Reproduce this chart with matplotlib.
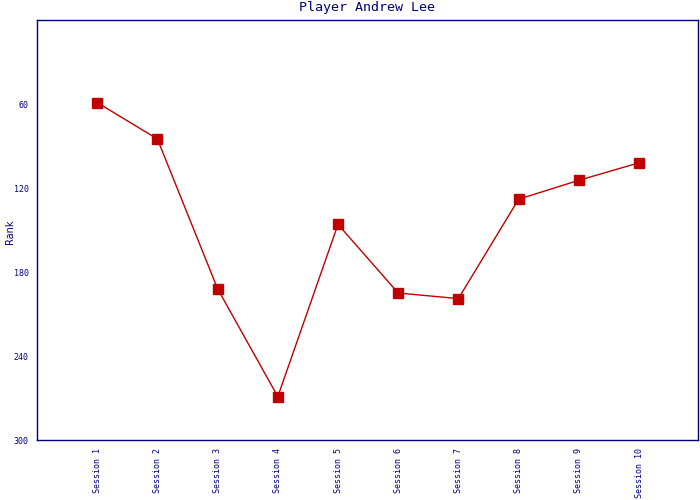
import matplotlib
matplotlib.use("Agg")
import matplotlib.pyplot as plt

sessions = ["Session 1", "Session 2", "Session 3", "Session 4", "Session 5",
            "Session 6", "Session 7", "Session 8", "Session 9", "Session 10"]
ranks = [59, 85, 192, 269, 146, 195, 199, 128, 114.5, 102]
yticks = [60, 120, 180, 240, 300]

navy = "#000080"
red = "#c00000"

fig = plt.figure(figsize=(7, 5), dpi=100)
ax = fig.add_axes([37/700, 60/500, 661/700, 420/500])
x = list(range(len(sessions)))
ax.plot(x, ranks, color=red, linewidth=1.0, marker="s", markersize=6.8,
        markerfacecolor=red, markeredgecolor=red)
ax.set_xlim(-1, 9.98)
ax.set_ylim(300, 0)
ax.set_yticks(yticks)
ax.set_yticklabels([str(v) for v in yticks], family="DejaVu Sans Mono", fontsize=6, color=navy)
ax.set_xticks(x)
ax.set_xticklabels(sessions, rotation=90, family="DejaVu Sans Mono", fontsize=6, color=navy, va="top")
ax.tick_params(axis="both", colors=navy, length=0, pad=6)
for s in ax.spines.values():
    s.set_color(navy)
    s.set_linewidth(1)
fig.text(367/700, 1 - 8/500, "Player Andrew Lee",
         family="DejaVu Sans Mono", fontsize=9.6, color=navy, ha="center", va="center")
fig.text(10/700, 1 - 232/500, "Rank", rotation=90, color=navy, fontsize=7,
         family="DejaVu Sans", ha="center", va="center")
fig.savefig("out.png", dpi=100)
